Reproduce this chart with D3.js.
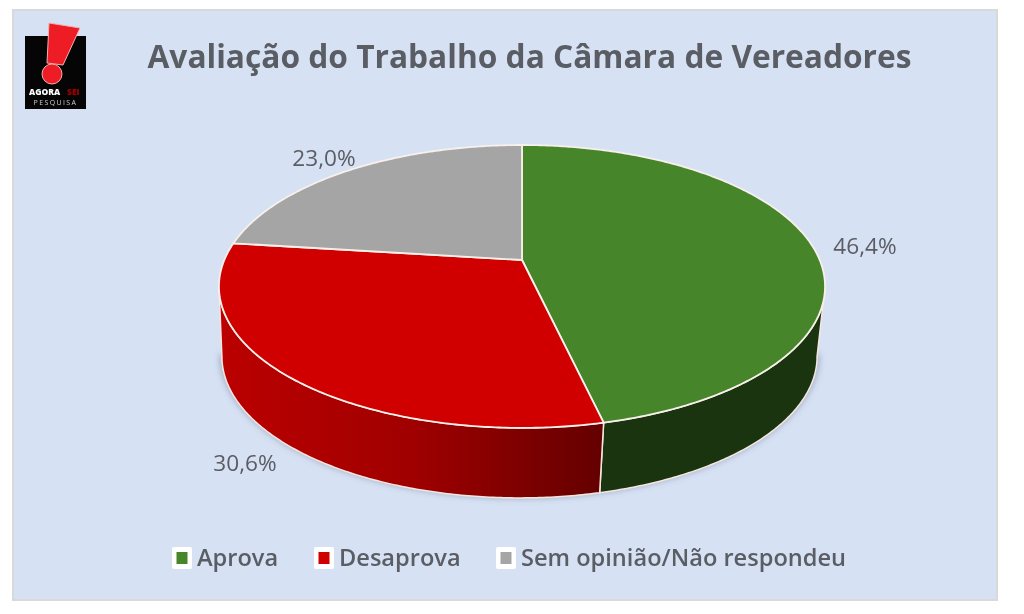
<!DOCTYPE html>
<html>
<head>
<meta charset="utf-8">
<script src="https://cdn.jsdelivr.net/npm/d3@7/dist/d3.min.js"></script>
<style>
    html, body { margin: 0; padding: 0; background: #fff; }
    svg { display: block; }
    text { font-family: "Open Sans", sans-serif; fill: #5a5d63; filter: url(#text-soft); }
</style>
</head>
<body>
<div id="chart"></div>
<script>
const categories = ['Aprova', 'Desaprova', 'Sem opinião/Não respondeu'];
const values = [46.4, 30.6, 23.0];
const valueLabels = ['46,4%', '30,6%', '23,0%'];
const topColors = ['#47852b', '#d00000', '#a5a5a5'];
const wallColors = [['#1a3410', '#1a3410', '#1a3410'], ['#bb0000', '#a00000', '#640000'], ['#777', '#666', '#555']];
const titleText = 'Avaliação do Trabalho da Câmara de Vereadores';

const width = 1024, height = 614;
const center = { x: 522, y: 260 };
// perspective of the tilted disc
const persp = 0.187, scaleU = 297.7, scaleV = 136.5;
const wallDepth = 70, wallShrink = 0.982, wallShift = -2.5;

const svg = d3.select('#chart').append('svg')
    .attr('width', width)
    .attr('height', height);

const defs = svg.append('defs');
wallColors.forEach((c, i) => {
    const grad = defs.append('linearGradient').attr('id', `wall-${i}`)
        .attr('x1', '0').attr('x2', '1').attr('y1', '0').attr('y2', '0');
    c.forEach((col, j) => {
        grad.append('stop').attr('offset', j / (c.length - 1)).attr('stop-color', col);
    });
});
defs.append('filter').attr('id', 'soft')
    .attr('x', '-10%').attr('y', '-10%').attr('width', '120%').attr('height', '120%')
    .append('feGaussianBlur').attr('stdDeviation', 3);
defs.append('filter').attr('id', 'text-soft')
    .append('feGaussianBlur').attr('stdDeviation', 0.45);

svg.append('rect')
    .attr('x', 13).attr('y', 10)
    .attr('width', 984).attr('height', 590)
    .attr('fill', '#d6e1f4')
    .attr('stroke', '#d9d9d9')
    .attr('stroke-width', 2);

svg.append('text')
    .text(titleText)
    .attr('x', 529.5).attr('y', 68)
    .attr('text-anchor', 'middle')
    .attr('font-weight', 700)
    .attr('font-size', 31.7);

// logo
const logo = svg.append('g');
logo.append('rect').attr('x', 25).attr('y', 36).attr('width', 61).attr('height', 73).attr('fill', '#050505');
logo.append('path')
    .attr('d', 'M49,23 L80,28 L63,65 L47,63 Z')
    .attr('fill', '#ee1c25').attr('stroke', '#f4b0b0').attr('stroke-width', 1);
logo.append('circle')
    .attr('cx', 52).attr('cy', 74).attr('r', 10)
    .attr('fill', '#ee1c25').attr('stroke', '#f4b0b0').attr('stroke-width', 1);
logo.append('text').text('AGORA')
    .attr('x', 29).attr('y', 95)
    .attr('font-size', 8.5).attr('font-weight', 800).style('fill', '#fff');
logo.append('text').text('SEI')
    .attr('x', 67).attr('y', 95)
    .attr('font-size', 8.5).attr('font-weight', 800).style('fill', '#a00000');
logo.append('text').text('PESQUISA')
    .attr('x', 55.5).attr('y', 105)
    .attr('text-anchor', 'middle')
    .attr('font-size', 7).attr('letter-spacing', 1.4).style('fill', '#ccc');

// pie angles, then pushed through the perspective of the disc
const arcs = d3.pie().sort(null)(values);

function project(angle, r) {
    const u = r * Math.sin(angle), v = r * Math.cos(angle);
    const w = 1 + persp * v;
    return [center.x + scaleU * u / w, center.y - scaleV * v / w];
}
function lower(p) {
    return [center.x + wallShift + (p[0] - center.x) * wallShrink, p[1] + wallDepth];
}
function arcPoints(a0, a1) {
    const n = Math.max(2, Math.ceil((a1 - a0) / 0.01));
    return d3.range(n + 1).map(i => project(a0 + (a1 - a0) * i / n, 1));
}
const line = d3.line();

// only the part of the rim facing the viewer gets a wall, from widest point to widest point
const frontStart = Math.PI / 2 + Math.asin(persp), frontEnd = 3 * Math.PI / 2 - Math.asin(persp);
const visibleArcs = arcs.map((d, i) => ({
    i,
    a0: Math.max(d.startAngle, frontStart),
    a1: Math.min(d.endAngle, frontEnd)
})).filter(d => d.a1 > d.a0);

const shadowRim = arcPoints(frontStart, frontEnd).map(lower);
svg.append('path')
    .attr('d', line(shadowRim))
    .attr('fill', 'none')
    .attr('stroke', '#5f6a80')
    .attr('stroke-opacity', 0.6)
    .attr('stroke-width', 4)
    .attr('transform', 'translate(0,-2)')
    .attr('filter', 'url(#soft)');

svg.append('g').selectAll('path')
    .data(visibleArcs)
    .join('path')
    .attr('d', d => {
        const rim = arcPoints(d.a0, d.a1);
        return line(rim.concat(rim.slice().reverse().map(lower))) + 'Z';
    })
    .attr('fill', d => `url(#wall-${d.i})`)
    .attr('stroke', '#f6e6e0')
    .attr('stroke-width', 1.5)
    .attr('stroke-linejoin', 'round');

svg.append('g').selectAll('path')
    .data(arcs)
    .join('path')
    .attr('d', d => {
        const rim = arcPoints(d.startAngle, d.endAngle);
        return line([[center.x, center.y], ...rim]) + 'Z';
    })
    .attr('fill', (d, i) => topColors[i])
    .attr('stroke', '#f8f0ea')
    .attr('stroke-width', 1.8)
    .attr('stroke-linejoin', 'round');

// value labels
const labelPos = d3.scaleOrdinal().domain(categories).range([[865, 254], [245, 471], [324, 166]]);
svg.append('g').selectAll('text')
    .data(categories)
    .join('text')
    .text((d, i) => valueLabels[i])
    .attr('x', d => labelPos(d)[0])
    .attr('y', d => labelPos(d)[1])
    .attr('text-anchor', 'middle')
    .attr('font-size', 22.6);

// legend
const legendX = d3.scaleOrdinal().domain(categories).range([172, 314, 496]);
const legend = svg.append('g').selectAll('g')
    .data(categories)
    .join('g')
    .attr('transform', d => `translate(${legendX(d)},558)`);
legend.append('rect')
    .attr('x', 0).attr('y', -11)
    .attr('width', 20).attr('height', 22).attr('rx', 2)
    .attr('fill', '#fff');
legend.append('rect')
    .attr('x', 4.5).attr('y', -6)
    .attr('width', 11).attr('height', 12)
    .attr('fill', (d, i) => topColors[i]);
legend.append('text')
    .text(d => d)
    .attr('x', 25).attr('y', 8)
    .attr('font-size', 23.6)
    .attr('font-weight', 600);
</script>
</body>
</html>
